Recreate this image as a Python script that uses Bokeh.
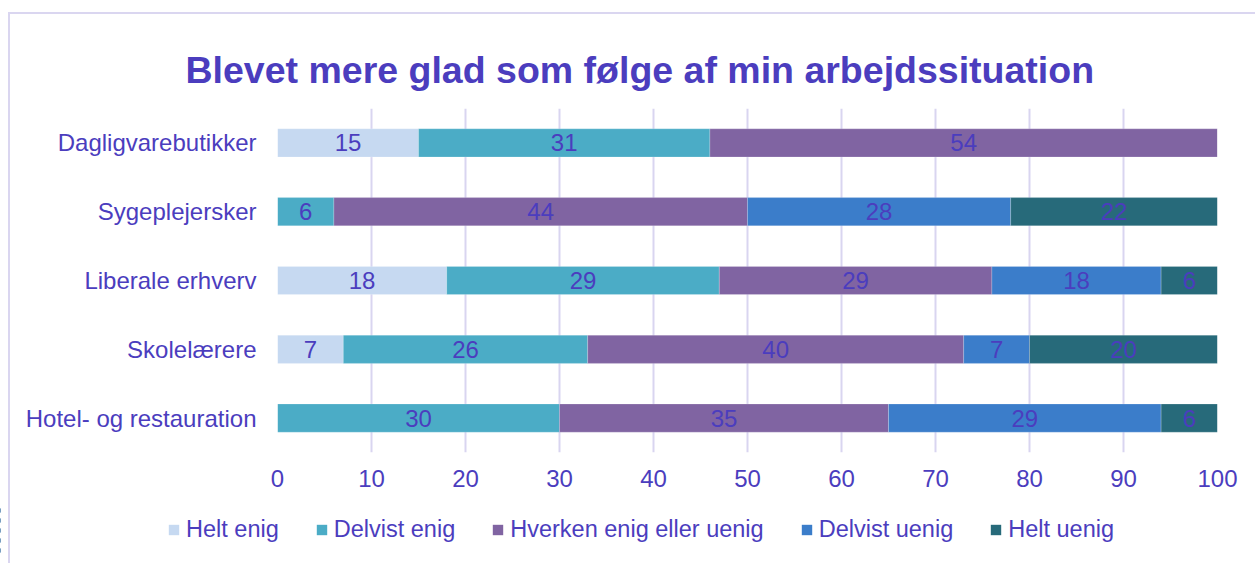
from bokeh.plotting import figure
from bokeh.models import ColumnDataSource, Range1d, FactorRange, Legend, LegendItem, FixedTicker, InlineStyleSheet
from bokeh.core.properties import value
from bokeh.embed import file_html
from bokeh.resources import INLINE

categories = ["Dagligvarebutikker", "Sygeplejersker", "Liberale erhverv", "Skolelærere", "Hotel- og restauration"]
series = ["Helt enig", "Delvist enig", "Hverken enig eller uenig", "Delvist uenig", "Helt uenig"]
helt_enig = [15, 0, 18, 7, 0]
delvist_enig = [31, 6, 29, 26, 30]
hverken = [54, 44, 29, 40, 35]
delvist_uenig = [0, 28, 18, 7, 29]
helt_uenig = [0, 22, 6, 20, 6]
colors = ["#C6D9F1", "#4BACC6", "#8064A2", "#3B7DCA", "#276A7A"]
x_ticks = [0, 10, 20, 30, 40, 50, 60, 70, 80, 90, 100]

TXT = "#4B3DBE"
FONT = "Liberation Sans"
BORDER = "#DAD6F0"
keys = ["s0", "s1", "s2", "s3", "s4"]
vals = [helt_enig, delvist_enig, hverken, delvist_uenig, helt_uenig]
data = {"cat": categories}
for k, v in zip(keys, vals):
    data[k] = v
src = ColumnDataSource(data)

p = figure(frame_width=940, frame_height=344, y_range=FactorRange(*reversed(categories)),
           x_range=Range1d(0, 100), output_backend="svg", toolbar_location=None,
           min_border_left=277, min_border_right=33, min_border_bottom=53, min_border_top=108)
p.border_fill_alpha = 0
p.stylesheets = [InlineStyleSheet(css=":host::before { content: ''; position: absolute; left: 8px; top: 12px; "
                                      "right: -20px; bottom: -80px; border: 2px solid " + BORDER + "; pointer-events: none; }")]

p.title.text = "Blevet mere glad som følge af min arbejdssituation"
p.title.text_font = FONT
p.title.text_font_size = "37.5px"
p.title.text_font_style = "bold"
p.title.text_color = TXT
p.title.align = "left"
p.title.offset = -92
p.title.standoff = 36

p.hbar_stack(keys, y="cat", height=0.41, color=colors, source=src,
             line_color="white", line_width=0.5, line_alpha=0.4)

# labels
lx, ly, lt = [], [], []
for i, c in enumerate(categories):
    cum = 0
    for v in vals:
        val = v[i]
        if val > 0:
            lx.append(cum + val / 2)
            ly.append(c)
            lt.append(str(val))
        cum += val
p.text(x=lx, y=ly, text=lt, text_align="center", text_baseline="middle",
       text_font=value(FONT), text_font_size="24px", text_color=TXT)

p.xaxis.ticker = FixedTicker(ticks=x_ticks)
p.xaxis.axis_line_color = None
p.xaxis.major_tick_line_color = None
p.xaxis.minor_tick_line_color = None
p.xaxis.major_label_text_font = FONT
p.xaxis.major_label_text_font_size = "24px"
p.xaxis.major_label_text_color = TXT
p.xaxis.major_label_standoff = 11

p.yaxis.axis_line_color = None
p.yaxis.major_tick_line_color = None
p.yaxis.minor_tick_line_color = None
p.yaxis.major_label_text_font = FONT
p.yaxis.major_label_text_font_size = "24px"
p.yaxis.major_label_text_color = TXT
p.yaxis.major_label_standoff = 15

p.xgrid.grid_line_color = "#D9D5F0"
p.xgrid.grid_line_width = 2
p.ygrid.grid_line_color = None
p.outline_line_color = None

# legend strip: same stacked series, plotted outside this strip's visible x range
p2 = figure(width=1250, height=50, x_range=Range1d(1000, 1100), y_range=FactorRange(*reversed(categories)),
            output_backend="svg", toolbar_location=None,
            min_border_left=0, min_border_right=0, min_border_top=0, min_border_bottom=0)
p2.axis.visible = False
p2.grid.visible = False
p2.outline_line_color = None
p2.border_fill_alpha = 0
p2.background_fill_alpha = 0
p2.stylesheets = [InlineStyleSheet(css=":host::before { content: ''; position: absolute; left: 8px; top: -2px; "
                                       "bottom: -40px; border-left: 2px solid " + BORDER + "; pointer-events: none; }")]
rs = p2.hbar_stack(keys, y="cat", height=0.41, color=colors, source=src, line_color=None)
legend = Legend(items=[LegendItem(label=s, renderers=[r]) for s, r in zip(series, rs)],
                orientation="horizontal", location=(167, 12))
legend.label_text_font = FONT
legend.label_text_font_size = "23.5px"
legend.label_text_color = TXT
legend.glyph_width = 13
legend.glyph_height = 13
legend.label_height = 24
legend.label_standoff = 6
legend.spacing = 36
legend.border_line_color = None
legend.background_fill_alpha = 0
legend.padding = 0
legend.margin = 0
p2.add_layout(legend, "center")

open("out.html", "w").write(file_html([p, p2], INLINE))
